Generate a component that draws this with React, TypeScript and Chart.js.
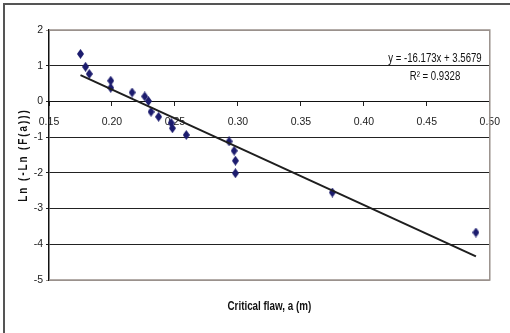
import React, { useEffect, useRef } from "react";
import { Chart, registerables } from "chart.js";

Chart.register(...registerables);

const flawX = [0.175, 0.179, 0.182, 0.199, 0.199, 0.216, 0.226, 0.229, 0.231, 0.237, 0.247, 0.248, 0.259, 0.293, 0.297, 0.298, 0.298, 0.375, 0.489];
const lnY = [1.33, 0.97, 0.77, 0.58, 0.38, 0.25, 0.14, 0.01, -0.29, -0.43, -0.6, -0.75, -0.94, -1.12, -1.38, -1.66, -2.01, -2.55, -3.67];
const trendX = [0.175, 0.489];
const trendY = [0.738, -4.34];
const equationText = "y = -16.173x + 3.5679";
const r2Text = "R² = 0.9328";
const xTitle = "Critical flaw, a (m)";
const yTitle = "Ln (-Ln (F(a)))";
const xMin = 0.15, xMax = 0.5, xStep = 0.05;
const yMin = -5, yMax = 2, yStep = 1;

const FONT = "'Liberation Sans Narrow', 'Arial Narrow', 'Liberation Sans', sans-serif";

function makeDiamond(): HTMLCanvasElement {
  const c = document.createElement("canvas");
  c.width = 7;
  c.height = 10;
  const ctx = c.getContext("2d")!;
  ctx.fillStyle = "#1c1c6e";
  ctx.beginPath();
  ctx.moveTo(3.5, 0);
  ctx.lineTo(7, 5);
  ctx.lineTo(3.5, 10);
  ctx.lineTo(0, 5);
  ctx.closePath();
  ctx.fill();
  return c;
}

function narrowText(ctx: any, text: string, x: number, y: number, sx: number) {
  ctx.save();
  ctx.translate(x, y);
  ctx.scale(sx, 1);
  ctx.fillText(text, 0, 0);
  ctx.restore();
}

export default function App() {
  const ref = useRef<HTMLCanvasElement | null>(null);
  useEffect(() => {
    document.body.style.margin = "0";
    const canvas = ref.current!;
    const diamond = makeDiamond();
    const textPlugin = {
      id: "texts",
      afterDraw(chart: any) {
        const { ctx, chartArea } = chart;
        const xs = chart.scales.x;
        const ys = chart.scales.y;
        ctx.save();
        ctx.strokeStyle = "#9a918c";
        ctx.lineWidth = 1.5;
        ctx.beginPath();
        ctx.moveTo(chartArea.left, chartArea.top);
        ctx.lineTo(chartArea.right, chartArea.top);
        ctx.lineTo(chartArea.right, chartArea.bottom);
        ctx.lineTo(chartArea.left, chartArea.bottom);
        ctx.stroke();
        ctx.fillStyle = "#111";
        ctx.font = `12px ${FONT}`;
        ctx.textAlign = "center";
        ctx.textBaseline = "middle";
        const cx = xs.getPixelForValue(0.4565);
        narrowText(ctx, equationText, cx, ys.getPixelForValue(1.2), 0.8);
        narrowText(ctx, r2Text, cx, ys.getPixelForValue(0.7), 0.8);
        ctx.font = `bold 12px ${FONT}`;
        narrowText(ctx, xTitle, (chartArea.left + chartArea.right) / 2, 307, 0.82);
        ctx.translate(24, (chartArea.top + chartArea.bottom) / 2);
        ctx.rotate(-Math.PI / 2);
        ctx.scale(0.82, 1);
        (ctx as any).letterSpacing = "2.4px";
        ctx.fillText(yTitle, 0, 0);
        ctx.restore();
      },
    };
    const chart = new Chart(canvas, {
      type: "scatter",
      data: {
        datasets: [
          {
            label: "data",
            data: flawX.map((x, i) => ({ x, y: lnY[i] })),
            pointStyle: diamond as any,
            pointRadius: 5,
            backgroundColor: "#1c1c6e",
            borderColor: "#1c1c6e",
            order: 2,
          },
          {
            type: "line",
            label: "trend",
            data: trendX.map((x, i) => ({ x, y: trendY[i] })),
            borderColor: "#1e1e1e",
            borderWidth: 2,
            pointRadius: 0,
            showLine: true,
            fill: false,
            order: 1,
          } as any,
        ],
      },
      options: {
        responsive: false,
        animation: false,
        layout: { padding: { left: 0, top: 30, right: 16, bottom: 53 } },
        plugins: { legend: { display: false }, tooltip: { enabled: false }, title: { display: false } },
        scales: {
          x: {
            type: "linear",
            position: { y: 0 } as any,
            min: xMin,
            max: xMax,
            ticks: {
              stepSize: xStep,
              padding: 10,
              color: "#222",
              font: { family: FONT, size: 10.5 },
              callback: (v: any) => Number(v).toFixed(2),
            },
            grid: { display: true, drawOnChartArea: false, drawTicks: true, tickLength: 4, color: "#222" },
            border: { display: true, color: "#111", width: 1 },
          },
          y: {
            type: "linear",
            min: yMin,
            max: yMax,
            afterFit: (s: any) => {
              s.width = 49;
            },
            ticks: {
              stepSize: yStep,
              padding: 3,
              color: "#222",
              font: { family: FONT, size: 10.5 },
            },
            grid: {
              tickLength: 3,
              color: (c: any) => (c.tick && (c.tick.value === yMax || c.tick.value === yMin) ? "#9a918c" : "#222"),
              lineWidth: 1,
            },
            border: { display: true, color: "#111", width: 1.5 },
          },
        },
      },
      plugins: [textPlugin],
    });
    return () => chart.destroy();
  }, []);
  return (
    <div style={{ position: "relative", width: 510, height: 333, overflow: "hidden", background: "#fff" }}>
      <div
        style={{
          position: "absolute",
          left: 3,
          top: 3,
          width: 600,
          height: 400,
          borderTop: "2px solid #555",
          borderLeft: "2px solid #555",
        }}
      />
      <canvas ref={ref} width={510} height={333} style={{ position: "absolute", left: 0, top: 0 }} />
    </div>
  );
}
